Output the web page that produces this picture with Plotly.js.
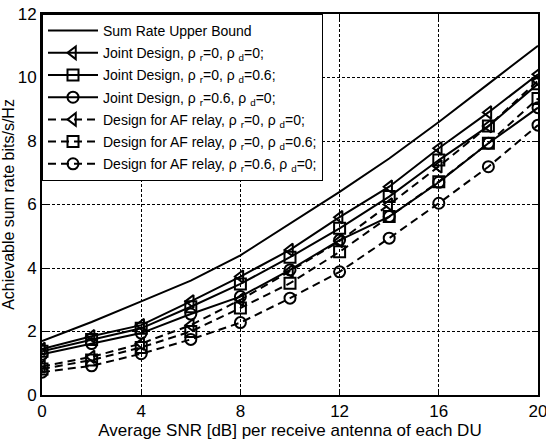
<!DOCTYPE html>
<html>
<head>
<meta charset="utf-8">
<script src="https://cdn.plot.ly/plotly-3.0.1.min.js"></script>
<style>html,body{margin:0;padding:0;background:#fff}#chart{width:546px;height:442px}</style>
</head>
<body>
<div id="chart"></div>
<script>
const snr = [0, 2, 4, 6, 8, 10, 12, 14, 16, 18, 20];
const upperBound = [1.7, 2.3, 2.95, 3.6, 4.4, 5.4, 6.4, 7.45, 8.6, 9.8, 11.0];
const jointR0D0 = [1.45, 1.85, 2.2, 2.95, 3.73, 4.57, 5.6, 6.56, 7.77, 8.9, 10.1];
const jointR0D06 = [1.38, 1.75, 2.1, 2.78, 3.5, 4.34, 5.25, 6.25, 7.4, 8.47, 9.8];
const jointR06D0 = [1.28, 1.62, 1.95, 2.55, 3.1, 3.94, 4.88, 5.62, 6.7, 7.93, 9.05];
const afR0D0 = [0.9, 1.2, 1.62, 2.2, 3.0, 3.9, 4.85, 6.0, 7.2, 8.47, 9.9];
const afR0D06 = [0.82, 1.1, 1.5, 2.0, 2.74, 3.52, 4.51, 5.62, 6.72, 7.93, 9.34];
const afR06D0 = [0.72, 0.92, 1.3, 1.75, 2.28, 3.05, 3.88, 4.94, 6.04, 7.19, 8.5];

const xTicks = [0, 4, 8, 12, 16, 20];
const yTicks = [0, 2, 4, 6, 8, 10, 12];

const names = [
  'Sum Rate Upper Bound',
  'Joint Design, \u03c1 <sub>r</sub>=0, \u03c1 <sub>d</sub>=0;',
  'Joint Design, \u03c1 <sub>r</sub>=0, \u03c1 <sub>d</sub>=0.6;',
  'Joint Design, \u03c1 <sub>r</sub>=0.6, \u03c1 <sub>d</sub>=0;',
  'Design for AF relay, \u03c1 <sub>r</sub>=0, \u03c1 <sub>d</sub>=0;',
  'Design for AF relay, \u03c1 <sub>r</sub>=0, \u03c1 <sub>d</sub>=0.6;',
  'Design for AF relay, \u03c1 <sub>r</sub>=0.6, \u03c1 <sub>d</sub>=0;'
];
const series = [upperBound, jointR0D0, jointR0D06, jointR06D0, afR0D0, afR0D06, afR06D0];
const symbols = [null, 'triangle-left-open', 'square-open', 'circle-open', 'triangle-left-open', 'square-open', 'circle-open'];
const dashes = ['solid', 'solid', 'solid', 'solid', '8px,5px', '8px,5px', '8px,5px'];

const traces = series.map((ys, i) => {
  const t = {
    x: snr, y: ys, name: names[i], type: 'scatter', legendgroup: 'g' + i,
    mode: symbols[i] ? 'lines+markers' : 'lines',
    line: {color: '#000', width: 2, dash: dashes[i]}
  };
  if (symbols[i]) {
    t.marker = {symbol: symbols[i], size: 11, color: '#000', line: {width: 2, color: '#000'}};
  }
  return t;
});

const axisCommon = {
  showline: true, linecolor: '#000', linewidth: 2, mirror: 'ticks',
  ticks: 'inside', ticklen: 5, tickcolor: '#000', tickwidth: 1,
  showgrid: true, gridcolor: '#000', gridwidth: 1, griddash: '3px,2px',
  zeroline: false, tickfont: {size: 17, color: '#000', family: 'Liberation Sans, Arial, sans-serif'}
};

const layout = {
  width: 546, height: 442,
  margin: {l: 42, r: 8, t: 14, b: 47},
  paper_bgcolor: '#fff', plot_bgcolor: '#fff',
  font: {family: 'Liberation Sans, Arial, sans-serif', color: '#000'},
  xaxis: Object.assign({}, axisCommon, {
    range: [0, 20], tickvals: xTicks, ticklabeloverflow: 'allow',
    title: {text: 'Average SNR [dB] per receive antenna of each DU', font: {size: 17}, standoff: 0}
  }),
  yaxis: Object.assign({}, axisCommon, {
    range: [0, 12], tickvals: yTicks,
    title: {text: 'Achievable sum rate bits/s/Hz', font: {size: 16}, standoff: 2}
  }),
  showlegend: true,
  legend: {
    x: 0, y: 1, xanchor: 'left', yanchor: 'top',
    bgcolor: '#fff', bordercolor: '#000', borderwidth: 1,
    font: {size: 14, color: '#000'}, tracegroupgap: 1, itemwidth: 50
  }
};

Plotly.newPlot('chart', traces, layout, {displayModeBar: false, staticPlot: true});
</script>
</body>
</html>
